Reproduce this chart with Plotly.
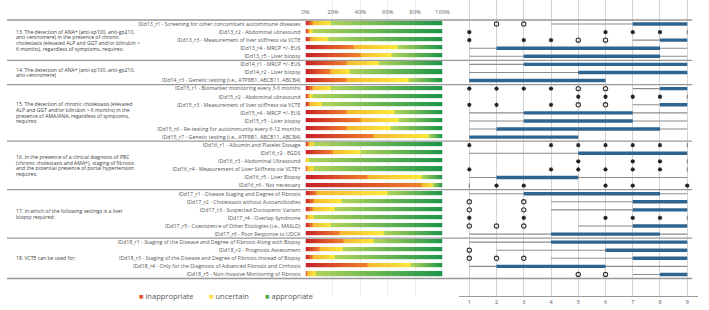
import numpy as np
import plotly.graph_objects as go

# ---------------- data ----------------
questions = [
    "13. The detection of ANA+ (anti-sp100, anti-gp210,<br>anti-centromere) in the presence of chronic<br>cholestasis (elevated ALP and GGT and/or bilirubin ><br>6 months), regardless of symptoms, requires:",
    "14. The detection of ANA+ (anti-sp100, anti-gp210,<br>anti-centromere)",
    "15. The detection of chronic cholestasis (elevated<br>ALP and GGT and/or bilirubin > 6 months) in the<br>presence of AMA/ANA, regardless of symptoms,<br>requires:",
    "16. In the presence of a clinical diagnosis of PBC<br>(chronic cholestasis and AMA+), staging of fibrosis<br>and the potential presence of portal hypertension<br>requires:",
    "17. In which of the following settings is a liver<br>biopsy required:",
    "18. VCTE can be used for:",
]
group_sizes = [5, 3, 7, 6, 6, 5]

items = [
    "IDd13_r1 - Screening for other concomitant autoimmune diseases",
    "IDd13_r2 - Abdominal ultrasound",
    "IDd13_r3 - Measurement of liver stiffness via VCTE",
    "IDd13_r4 - MRCP +/- EUS",
    "IDd13_r5 - Liver biopsy",
    "IDd14_r1 - MRCP +/- EUS",
    "IDd14_r2 - Liver biopsy",
    "IDd14_r3 - Genetic testing (i.e., ATP8B1, ABCB11, ABCB4)",
    "IDd15_r1 - Biomarker monitoring every 3-6 months",
    "IDd15_r2 - Abdominal ultrasound",
    "IDd15_r3 - Measurement of liver stiffness via VCTE",
    "IDd15_r4 - MRCP +/- EUS",
    "IDd15_r5 - Liver biopsy",
    "IDd15_r6 - Re-testing for autoimmunity every 6-12 months",
    "IDd15_r7 - Genetic testing (i.e., ATP8B1, ABCB11, ABCB4)",
    "IDd16_r1 - Albumin and Platelet Dosage",
    "IDd16_r2 - EGDS",
    "IDd16_r3 - Abdominal Ultrasound",
    "IDd16_r4 - Measurement of Liver Stiffness via VCTE*",
    "IDd16_r5 - Liver Biopsy",
    "IDd16_r6 - Not necessary",
    "IDd17_r1 - Disease Staging and Degree of Fibrosis",
    "IDd17_r2 - Cholestasis without Autoantibodies",
    "IDd17_r3 - Suspected Ductopenic Variant",
    "IDd17_r4 - Overlap Syndrome",
    "IDd17_r5 - Coexistence of Other Etiologies (i.e., MASLD)",
    "IDd17_r6 - Poor Response to UDCA",
    "IDd18_r1 - Staging of the Disease and Degree of Fibrosis Along with Biopsy",
    "IDd18_r2 - Prognosis Assessment",
    "IDd18_r3 - Staging of the Disease and Degree of Fibrosis Instead of Biopsy",
    "IDd18_r4 - Only for the Diagnosis of Advanced Fibrosis and Cirrhosis",
    "IDd18_r5 - Non-Invasive Monitoring of Fibrosis",
]

# percentages (inappropriate / uncertain / appropriate)
inappropriate = [5, 2, 4, 35, 40, 30, 18, 30, 5, 2, 3, 30, 40, 30, 50, 2, 20, 0, 1, 45, 85,
                 8, 6, 5, 1, 5, 25, 28, 10, 5, 45, 1]
uncertain = [13, 3, 12, 32, 23, 23, 14, 45, 13, 3, 9, 35, 28, 32, 40, 4, 20, 2, 5, 40, 8,
             52, 20, 16, 5, 13, 32, 22, 17, 16, 32, 6]
appropriate = [82, 95, 84, 33, 37, 47, 68, 25, 82, 95, 88, 35, 32, 38, 10, 94, 60, 98, 94, 15, 7,
               40, 74, 79, 94, 82, 43, 50, 73, 79, 23, 93]

# box-plot summary on 1-9 scale
whisker_lo = [4, 9, 7, 1, 1, 1, 1, 1, 7, 9, 7, 1, 1, 1, 1, 9, 1, 9, 9, 1, 1,
              1, 4, 4, 9, 5, 1, 1, 2, 4, 1, 7]
whisker_hi = [9, 9, 9, 9, 9, 9, 9, 6, 9, 9, 9, 9, 9, 9, 5, 9, 9, 9, 9, 9, 1,
              9, 9, 9, 9, 9, 9, 9, 9, 9, 9, 9]
box_q1 = [7, 9, 8, 2, 3, 3, 5, 1, 8, 9, 8, 3, 3, 2, 1, 9, 5, 9, 9, 2, 1,
          3, 7, 7, 9, 7, 4, 4, 6, 7, 2, 8]
box_q3 = [9, 9, 9, 8, 8, 9, 9, 6, 9, 9, 9, 7, 7, 8, 5, 9, 9, 9, 9, 5, 1,
          8, 9, 9, 9, 9, 8, 9, 9, 9, 6, 9]
outliers = [[2, 3], [], [5, 6], [], [], [], [], [], [5, 6], [], [5, 6], [], [], [], [], [], [], [], [], [], [],
            [], [1, 3], [1, 3], [], [1, 2, 3], [], [], [1], [1, 2, 3], [], [5, 6]]
extremes = [[], [1, 6, 7, 8], [1, 3, 4], [], [], [], [], [], [1, 2, 3, 4], [5, 6, 7, 8], [1, 2, 4], [], [], [], [],
            [1, 4, 5, 6, 7, 8], [], [5, 7, 8], [1, 4, 5, 6, 7, 8], [], [2, 3, 6, 7, 9],
            [], [], [], [1, 3, 6, 7, 8], [], [], [], [], [], [], []]

pct_ticks = [0, 20, 40, 60, 80, 100]
pct_labels = ["0%", "20%", "40%", "60%", "80%", "100%"]
scale_ticks = [1, 2, 3, 4, 5, 6, 7, 8, 9]
legend_names = ["inappropriate", "uncertain", "appropriate"]

# ---------------- layout geometry ----------------
W, H = 709, 310
ROW0, PITCH = 24.0, 8.08
PLOT_BOTTOM = 296.0
n = len(items)
rows = list(range(n))
y_top = -ROW0 / PITCH
y_bot = (PLOT_BOTTOM - ROW0) / PITCH

BAR_L, BAR_R = 306.7, 446.0
BOX_L, BOX_R = 463.0, 706.0
X1, X9 = 473.3, 695.0
ppu = (X9 - X1) / 8.0
box_range = [1 - (X1 - BOX_L) / ppu, 9 + (BOX_R - X9) / ppu]

# ---------------- gradient bars (heatmap) ----------------
cols = np.arange(0.25, 100, 0.5)
z = []
for a, u, g in zip(inappropriate, uncertain, appropriate):
    tot = a + u + g
    a_ = a / tot * 100
    u_ = u / tot * 100
    g_ = 100 - a_ - u_
    zr = []
    for c in cols:
        if c < a_:
            zr.append(0.999 * c / a_)
        elif c < a_ + u_:
            zr.append(1 + 0.999 * (c - a_) / u_)
        else:
            zr.append(2 + (c - a_ - u_) / g_)
    z.append(zr)

colorscale = [
    [0.0, "#c8202a"], [0.333, "#f0812a"],
    [0.3334, "#f5b731"], [0.6663, "#fbea3c"],
    [0.6667, "#b2d35a"], [1.0, "#1b954a"],
]

fig = go.Figure()
fig.add_trace(go.Heatmap(
    x=cols, y=rows, z=z, zmin=0, zmax=3, colorscale=colorscale,
    showscale=False, ygap=3.8, xaxis="x", yaxis="y", hoverinfo="skip",
))

# ---------------- box panel ----------------
wx, wy, bx, by = [], [], [], []
dx, dy = [], []
for i in rows:
    wx += [whisker_lo[i], whisker_hi[i], None]
    wy += [i, i, None]
    bx += [box_q1[i], box_q3[i], None]
    by += [i, i, None]
    if box_q1[i] == box_q3[i]:
        dx.append(box_q1[i])
        dy.append(i)
fig.add_trace(go.Scatter(x=wx, y=wy, mode="lines", line=dict(color="#8c8c8c", width=1.1),
                         xaxis="x2", yaxis="y", hoverinfo="skip", showlegend=False))
fig.add_trace(go.Scatter(x=bx, y=by, mode="lines", line=dict(color="#2e6590", width=3.4),
                         xaxis="x2", yaxis="y", hoverinfo="skip", showlegend=False))
fig.add_trace(go.Scatter(x=dx, y=dy, mode="markers",
                         marker=dict(symbol="line-ns-open", size=3, color="#777", line=dict(width=1)),
                         xaxis="x2", yaxis="y", hoverinfo="skip", showlegend=False))
ox, oy, ex, ey = [], [], [], []
for i in rows:
    for v in outliers[i]:
        ox.append(v); oy.append(i)
    for v in extremes[i]:
        ex.append(v); ey.append(i)
fig.add_trace(go.Scatter(x=ox, y=oy, mode="markers",
                         marker=dict(symbol="circle-open", size=4.3, color="#333", line=dict(width=1.1)),
                         xaxis="x2", yaxis="y", hoverinfo="skip", showlegend=False))
fig.add_trace(go.Scatter(x=ex, y=ey, mode="markers",
                         marker=dict(symbol="asterisk-open", size=3.6, color="#222", line=dict(width=1.1)),
                         xaxis="x2", yaxis="y", hoverinfo="skip", showlegend=False))

# ---------------- separators & question texts ----------------
bounds = np.concatenate([[0], np.cumsum(group_sizes)])
for b in bounds:
    fig.add_shape(type="line", xref="paper", yref="y", x0=3 / W, x1=700 / W,
                  y0=b - 0.5, y1=b - 0.5, line=dict(color="#999", width=1.4))
LINE_STEP = 5.7 / PITCH
for q, s, e in zip(questions, bounds[:-1], bounds[1:]):
    lines = q.split("<br>")
    center = (s + e - 1) / 2
    for k, ln in enumerate(lines):
        fig.add_annotation(text=ln, xref="paper", yref="y", x=11.5 / W,
                           y=center + (k - (len(lines) - 1) / 2) * LINE_STEP,
                           xanchor="left", yanchor="middle", align="left", showarrow=False,
                           borderpad=0, font=dict(size=5.1, color="#404040"))

# ---------------- legend ----------------
leg_colors = ["#e4542a", "#f7e13a", "#4fae4a"]
leg_x = [135, 206.5, 263.5]
for name, c, lx in zip(legend_names, leg_colors, leg_x):
    fig.add_annotation(text=f'<span style="color:{c}">■</span> {name}', xref="paper", yref="paper",
                       x=lx / W, y=1 - 296 / H, xanchor="left", yanchor="middle", showarrow=False,
                       font=dict(size=7.5, color="#595959"))

fig.update_layout(
    width=W, height=H, margin=dict(l=0, r=0, t=0, b=0),
    paper_bgcolor="white", plot_bgcolor="rgba(0,0,0,0)",
    font=dict(family="Open Sans", color="#555"),
    showlegend=False,
    xaxis=dict(domain=[BAR_L / W, BAR_R / W], range=[0, 100], side="top", anchor="free",
               position=1 - 15 / H, tickvals=pct_ticks, ticktext=pct_labels,
               tickfont=dict(size=5.8, color="#666"), showgrid=True, gridcolor="#ececec",
               gridwidth=0.8, zeroline=False, showline=False, ticks="", ticklen=0),
    xaxis2=dict(domain=[BOX_L / W, BOX_R / W], range=box_range, anchor="y",
                tickvals=scale_ticks, tickfont=dict(size=5.5, color="#555"),
                showgrid=True, gridcolor="#d4d4d4", gridwidth=1, zeroline=False,
                showline=True, linecolor="#9a9a9a", linewidth=1, ticks="", ticklen=0),
    yaxis=dict(domain=[1 - PLOT_BOTTOM / H, 1], range=[y_bot, y_top], anchor="x",
               tickvals=rows, ticktext=items, tickfont=dict(size=5.3, color="#555555"),
               showgrid=False, zeroline=False, showline=False, ticks="outside",
               ticklen=3, tickcolor="rgba(0,0,0,0)"),
)

fig.write_html("out.html", config={"displayModeBar": False},
               post_script="document.body.style.margin='0px';")
